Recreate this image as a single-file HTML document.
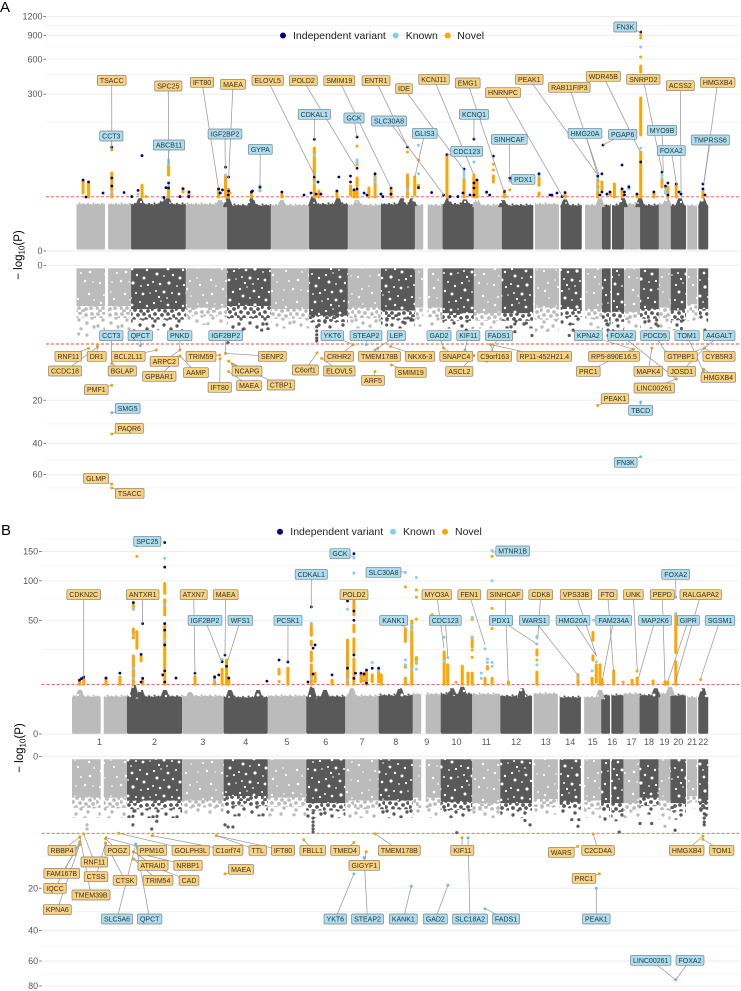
<!DOCTYPE html>
<html lang="en">
<head>
<meta charset="utf-8">
<title>Mirrored Manhattan plots</title>
<style>
html,body{margin:0;padding:0;background:#fff;}
svg{display:block;font-family:"Liberation Sans",sans-serif;}
</style>
</head>
<body>
<svg id="chart" xmlns="http://www.w3.org/2000/svg" width="741" height="991" viewBox="0 0 741 991">
  <defs>
    <pattern id="dense-light" width="36" height="36" patternUnits="userSpaceOnUse">
      <rect width="36" height="36" fill="#bbbbbb"/>
      <g fill="#fff"><circle cx="3" cy="4" r=".8"/><circle cx="17" cy="6" r="1.2"/><circle cx="32" cy="7" r="1"/><circle cx="6" cy="11" r="1.1"/><circle cx="22" cy="12" r=".9"/><circle cx="29" cy="15" r="1.2"/><circle cx="9" cy="21" r="1"/><circle cx="18" cy="20" r="1.3"/><circle cx="33" cy="22" r=".8"/><circle cx="13" cy="29" r="1.2"/><circle cx="28" cy="31" r="1.1"/><circle cx="21" cy="30" r=".7"/><circle cx="4" cy="30" r=".8"/></g>
    </pattern>
    <pattern id="dense-dark" width="36" height="36" patternUnits="userSpaceOnUse">
      <rect width="36" height="36" fill="#595959"/>
      <g fill="#fff"><circle cx="3" cy="4" r="1.1"/><circle cx="10" cy="2" r=".8"/><circle cx="17" cy="6" r="1.4"/><circle cx="25" cy="3" r="1"/><circle cx="32" cy="7" r="1.2"/><circle cx="6" cy="11" r="1.5"/><circle cx="13" cy="13" r=".9"/><circle cx="22" cy="12" r="1.2"/><circle cx="29" cy="15" r="1.5"/><circle cx="2" cy="19" r="1"/><circle cx="9" cy="21" r="1.3"/><circle cx="18" cy="20" r="1.6"/><circle cx="26" cy="23" r=".9"/><circle cx="33" cy="22" r="1.1"/><circle cx="5" cy="28" r="1"/><circle cx="13" cy="29" r="1.5"/><circle cx="21" cy="30" r="1"/><circle cx="28" cy="31" r="1.4"/><circle cx="35" cy="30" r=".8"/><circle cx="16" cy="35" r=".9"/><circle cx="8" cy="34" r="1.1"/></g>
    </pattern>
    <pattern id="mid-light" width="24" height="24" patternUnits="userSpaceOnUse">
      <g fill="#bbbbbb"><circle cx="2" cy="2" r="1.9"/><circle cx="8" cy="1" r="1.9"/><circle cx="14" cy="3" r="1.9"/><circle cx="20" cy="2" r="1.9"/><circle cx="5" cy="6" r="1.9"/><circle cx="11" cy="7" r="1.9"/><circle cx="18" cy="8" r="1.9"/><circle cx="23" cy="6" r="1.9"/><circle cx="1" cy="10" r="1.9"/><circle cx="8" cy="11" r="1.9"/><circle cx="14" cy="12" r="1.9"/><circle cx="21" cy="12" r="1.9"/><circle cx="4" cy="15" r="1.9"/><circle cx="11" cy="16" r="1.9"/><circle cx="17" cy="15" r="1.9"/><circle cx="23" cy="17" r="1.9"/><circle cx="1" cy="20" r="1.9"/><circle cx="7" cy="20" r="1.9"/><circle cx="14" cy="21" r="1.9"/><circle cx="19" cy="20" r="1.9"/><circle cx="4" cy="23" r="1.9"/><circle cx="11" cy="23" r="1.9"/></g>
    </pattern>
    <pattern id="mid-dark" width="24" height="24" patternUnits="userSpaceOnUse">
      <g fill="#595959"><circle cx="2" cy="2" r="1.9"/><circle cx="8" cy="1" r="1.9"/><circle cx="14" cy="3" r="1.9"/><circle cx="20" cy="2" r="1.9"/><circle cx="5" cy="6" r="1.9"/><circle cx="11" cy="7" r="1.9"/><circle cx="18" cy="8" r="1.9"/><circle cx="23" cy="6" r="1.9"/><circle cx="1" cy="10" r="1.9"/><circle cx="8" cy="11" r="1.9"/><circle cx="14" cy="12" r="1.9"/><circle cx="21" cy="12" r="1.9"/><circle cx="4" cy="15" r="1.9"/><circle cx="11" cy="16" r="1.9"/><circle cx="17" cy="15" r="1.9"/><circle cx="23" cy="17" r="1.9"/><circle cx="1" cy="20" r="1.9"/><circle cx="7" cy="20" r="1.9"/><circle cx="14" cy="21" r="1.9"/><circle cx="19" cy="20" r="1.9"/><circle cx="4" cy="23" r="1.9"/><circle cx="11" cy="23" r="1.9"/></g>
    </pattern>
    <pattern id="sparse-light" width="24" height="24" patternUnits="userSpaceOnUse">
      <g fill="#bbbbbb"><circle cx="2" cy="3" r="1.7"/><circle cx="13" cy="2" r="1.7"/><circle cx="20" cy="6" r="1.7"/><circle cx="7" cy="8" r="1.7"/><circle cx="15" cy="11" r="1.7"/><circle cx="2" cy="14" r="1.7"/><circle cx="22" cy="15" r="1.7"/><circle cx="9" cy="17" r="1.7"/><circle cx="16" cy="20" r="1.7"/><circle cx="4" cy="22" r="1.7"/></g>
    </pattern>
    <pattern id="sparse-dark" width="24" height="24" patternUnits="userSpaceOnUse">
      <g fill="#595959"><circle cx="2" cy="3" r="1.7"/><circle cx="13" cy="2" r="1.7"/><circle cx="20" cy="6" r="1.7"/><circle cx="7" cy="8" r="1.7"/><circle cx="15" cy="11" r="1.7"/><circle cx="2" cy="14" r="1.7"/><circle cx="22" cy="15" r="1.7"/><circle cx="9" cy="17" r="1.7"/><circle cx="16" cy="20" r="1.7"/><circle cx="4" cy="22" r="1.7"/></g>
    </pattern>
    <pattern id="fuzz-light" width="14" height="6" patternUnits="userSpaceOnUse">
      <g fill="#bbbbbb"><circle cx="1" cy="4.2" r="1.5"/><circle cx="4" cy="3" r="1.3"/><circle cx="6.5" cy="4.4" r="1.5"/><circle cx="9.5" cy="2.4" r="1.1"/><circle cx="11.5" cy="4.2" r="1.5"/><circle cx="13.5" cy="3.2" r="1.1"/></g>
    </pattern>
    <pattern id="fuzz-dark" width="14" height="6" patternUnits="userSpaceOnUse">
      <g fill="#595959"><circle cx="1" cy="4.2" r="1.5"/><circle cx="4" cy="3" r="1.3"/><circle cx="6.5" cy="4.4" r="1.5"/><circle cx="9.5" cy="2.4" r="1.1"/><circle cx="11.5" cy="4.2" r="1.5"/><circle cx="13.5" cy="3.2" r="1.1"/></g>
    </pattern>
  </defs>

  <g id="grid-layer"></g>
  <g id="band-layer"></g>
  <g id="threshold-layer"></g>
  <g id="point-layer"></g>
  <g id="axis-layer"></g>
  <g id="leader-layer"></g>
  <g id="label-layer"></g>

  <text x="0" y="12" font-size="15" fill="#000">A</text>
  <text x="1" y="535" font-size="15" fill="#000">B</text>

  <text transform="translate(22,255) rotate(-90)" text-anchor="middle" font-size="11.5" fill="#000">− log<tspan dy="2.5" font-size="8">10</tspan><tspan dy="-2.5">(P)</tspan></text>
  <text transform="translate(23,748) rotate(-90)" text-anchor="middle" font-size="11.5" fill="#000">− log<tspan dy="2.5" font-size="8">10</tspan><tspan dy="-2.5">(P)</tspan></text>

  <g font-size="10.5" fill="#222">
    <circle cx="283" cy="35.5" r="3" fill="#000080"/>
    <text x="293" y="39">Independent variant</text>
    <circle cx="395.7" cy="35.5" r="3" fill="#87ceeb"/>
    <text x="405.7" y="39">Known</text>
    <circle cx="447.7" cy="35.5" r="3" fill="#ffa500"/>
    <text x="457.3" y="39">Novel</text>
  </g>
  <g font-size="10.5" fill="#222">
    <circle cx="280" cy="531.7" r="3" fill="#000080"/>
    <text x="290.3" y="535.2">Independent variant</text>
    <circle cx="393" cy="531.7" r="3" fill="#87ceeb"/>
    <text x="403" y="535.2">Known</text>
    <circle cx="445" cy="531.7" r="3" fill="#ffa500"/>
    <text x="455" y="535.2">Novel</text>
  </g>
</svg>

<script>
/* ---------- shared genome data (cumulative Mb) ---------- */
const chromNames = ["1","2","3","4","5","6","7","8","9","10","11","12","13","14","15","16","17","18","19","20","21","22"];
const chromSegments = [
  [[0,130],[144,249]],[[249,499]],[[499,687]],[[687,887]],[[887,1061]],[[1061,1238]],[[1238,1389]],[[1389,1544]],
  [[1544,1582],[1602,1670]],[[1670,1813]],[[1813,1940]],[[1940,2084]],[[2091,2201]],[[2209,2305]],[[2320,2397]],
  [[2397,2437],[2443,2498]],[[2498,2571]],[[2571,2657]],[[2657,2711]],[[2711,2781]],[[2786,2832]],[[2837,2882]]
];

/* ---------- panel A, upper mirror ---------- */
const aUpperMajorTicks = [0,300,600,900,1200];
const aUpperMinorTicks = [150,450,750,1050];
const aUpperThreshold = [7.7];
const aUpperBandTop = [5.4,5.4,5.4,5.0,5.0,5.4,5.0,5.4,5.0,5.4,5.0,5.0,5.4,5.0,5.0,5.0,5.4,5.0,5.4,5.0,4.9,5.0];
const aUpperGrayPeaks = [[290,7],[395,7],[417,7],[655,6.2],[691,7],[800,7],[937,6.2],[1079,7.7],[1193,7],[1280,6.2],[1485,7],[1531,7],[1695,7],[1772,6.5],[1827,6.2],[1946,6.2],[2229,6.5],[2388,7],[2493,7],[2571,7],[2694,7],[2753,7],[2858,7]];
const aUpperRuns = [
  [30,9.7,19.5],[55,7.6,17.7],[161,7.6,27],[299,7.6,15],[420,24.6,37.8],[420,7.6,12.9],[486,10.3,12.3],[513,7.6,10.3],
  [648,7.6,12.3],[680,7.6,22.5],[694,7.6,12],[798,7.6,9.7],[837,11,12.9],[937,7.6,9],[1085,7.6,70.2],[1106,7.6,10.9],
  [1188,7.6,10.9],[1250,8.6,14.4],[1266,7.6,11.6],[1280,14.4,21.5],[1280,7.6,10.9],[1334,7.6,12.9],[1362,7.6,23.5],
  [1435,7.6,11.6],[1510,11.6,24.6],[1510,7.6,10.3],[1543,8.6,22.5],[1560,12.9,15],[1690,7.6,53.2],[1768,7.6,21.5],
  [1813,7.6,24.6],[1827,7.6,19.5],[1902,17.7,23.5],[1952,7.6,10.9],[2110,15,21.5],[2110,8.6,9.7],[2229,7.6,9.7],
  [2378,7.6,19.5],[2397,11.6,17.7],[2434,8.6,10.3],[2454,7.6,16],[2489,7.6,12.3],[2557,7.6,9],[2574,7.6,61.4],
  [2574,106,275],[2574,473,529],[2634,7.6,10.3],[2671,13.6,19.5],[2698,7.6,13.6],[2736,7.6,15],[2858,7.6,10.3]
];
const aUpperNovel = [[2574,903],[2574,861],[2574,624],[2574,112],[1510,61.4],[1560,46],[1902,39],[1902,30.7],[1280,75],[1280,38],[161,66],[161,70],[1977,11.6],[317,7.8],[700,9.7],[2110,8.8]];
const aUpperKnown = [[161,10.3],[281,9],[299,54],[420,46],[420,42],[420,38],[420,14.4],[659,9.7],[680,24.6],[837,14.4],[837,11.6],[1085,55],[1085,16.8],[1085,24.6],[1280,46],[1280,42.5],[1280,41],[1362,21.5],[1362,17.7],[1510,11.6],[1560,77],[1560,26],[1768,28],[1768,24.6],[1768,21.5],[1813,42.5],[1871,9.7],[1977,18.6],[2110,23.5],[2378,21.5],[2378,16],[2378,11.6],[2520,14.4],[2520,12.3],[2574,742],[2574,70],[2671,24.6],[2671,21.5],[2687,12.9],[2687,10.9],[2687,9.7],[2858,11.6]];
const aUpperIndependent = [[30,19.5],[43,7.6],[55,17.7],[121,9.7],[161,72.7],[161,21.5],[161,14.4],[217,10],[252,7.8],[281,11.3],[299,54],[399,7.4],[408,13.2],[420,16.8],[420,12.9],[472,7.8],[486,12.5],[512,7.8],[513,10.3],[648,12.3],[655,9.7],[666,11.6],[680,34.7],[694,22.5],[694,10.9],[692,8.6],[798,10.3],[803,10.9],[837,13.6],[937,10.3],[1038,8.6],[1070,9.7],[1085,93],[1085,22.5],[1093,9.1],[1102,17.7],[1115,9.1],[1188,10.9],[1197,22.5],[1250,23.5],[1250,17.7],[1266,11.6],[1280,99.8],[1280,33],[1280,12.3],[1312,9.7],[1325,8.6],[1362,26],[1389,9.1],[1398,7.8],[1435,12.9],[1435,9.1],[1510,72.7],[1560,13.2],[1620,10],[1675,8.6],[1690,56],[1704,7.8],[1740,7.8],[1763,9.7],[1768,32],[1795,8.6],[1813,93.7],[1813,16.8],[1813,12.9],[1813,8.6],[1827,19.5],[1871,10.3],[1885,8.6],[1902,53],[1952,10.6],[1977,21.5],[2110,26],[2160,8.6],[2169,8.6],[2192,9.7],[2215,7.8],[2229,10],[2378,23.5],[2388,8.6],[2397,26],[2397,10.3],[2402,77.6],[2420,9.1],[2434,10.3],[2489,37.8],[2489,12.3],[2500,10.3],[2500,8.6],[2520,13.6],[2557,9.1],[2574,948],[2574,42.5],[2634,10.3],[2671,28.2],[2687,14.4],[2698,16.8],[2698,8.6],[2736,16],[2749,10.3],[2758,9.1],[2858,16],[2858,12.3],[2867,8.6]];
const aUpperLabels = [
  ["TSACC","n",161,66],["SPC25","n",420,37.8],["IFT80","n",648,12.9],["MAEA","n",694,21.5],["ELOVL5","n",1092,21.5],
  ["POLD2","n",1276,33.4],["SMIM19","n",1435,13],["ENTR1","n",1510,72.7],["IDE","n",1768,30.7],["KCNJ11","n",1813,24.6],
  ["EMG1","n",1951,10.3],["HNRNPC","n",2218,7.7],["PEAK1","n",2378,24.6],["RAB11FIP3","n",2384,24.6],["WDR45B","n",2571,62],
  ["SNRPD2","n",2672,28.5],["ACSS2","n",2758,10.3],["HMGXB4","n",2862,16.8],
  ["CCT3","k",161,72.7],["ABCB11","k",420,45.9],["IGF2BP2","k",679,33.4],["GYPA","k",837,14],["CDKAL1","k",1085,93],
  ["GCK","k",1278,100],["SLC30A8","k",1676,8.6],["GLIS3","k",1544,22.5],["KCNQ1","k",1813,93],["CDC123","k",1690,55],
  ["SINHCAF","k",1977,21.5],["PDX1","k",1977,19.5],["HMG20A","k",2378,24.6],["PGAP6","k",2402,77.6],["MYO9B","k",2677,28.5],
  ["FOXA2","k",2738,15],["TMPRSS6","k",2862,16],["FN3K","k",2574,948]
];
const aUpperLabelBoxes = [
  [111.7,80.3],[168.3,86],[202,82.3],[233,84.3],[267.7,80.3],[303.3,80.7],[339.3,80.7],[376,80.7],[404,88.7],[434,79.3],
  [467.7,83],[503,92.7],[529.3,79.3],[569.3,87.3],[603.3,76.3],[643.3,79.3],[680.3,85.7],[717.7,82.3],
  [111.3,136],[169,145],[225,134],[260.3,149.3],[314.3,114.3],[354,118],[389,121],[424.7,133.3],[474,114.3],[466.7,151.3],
  [509.3,139.3],[523.3,179.3],[585,133.3],[622.7,134.3],[662,130.3],[671.3,150.7],[710.3,140],[625.3,27]
];

/* ---------- panel A, lower mirror ---------- */
const aLowerMajorTicks = [0,20,40,60];
const aLowerMinorTicks = [30,50,70];
const aLowerThreshold = [5.2];
const aLowerDense = [1.0,1.2,1.1,1.0,1.2,1.7,1.1,1.3,1.1,1.5,1.5,1.5,1.1,1.2,1.2,1.4,1.4,1.2,1.1,1.3,0.9,1.2];
const aLowerSparse = [3.2,3.2,2.6,3.2,3.0,3.0,3.0,3.0,2.8,3.0,3.0,3.0,3.4,2.6,3.0,3.4,3.0,3.0,3.0,3.2,2.2,2.4];
const aLowerGray = [[10,3.7],[48,3.85],[760,3.1],[845,3.2],[868,2.5],[691,5],[1096,2.8],[1096,3.3],[1096,3.8],[1096,4.3],[1096,4.7],[2078,3.9],[2266,3.2],[2248,3.9],[2151,3.2],[1415,2.6],[1489,2.3],[1512,1.9],[1535,2.1],[1778,3.2],[2000,2.5],[2000,3.4],[2052,2.4],[2252,2.5],[2425,2.6],[2425,3.2],[2425,3.9],[2647,2.1],[2653,2.7],[2760,2.2],[2760,3],[2867,3.2]];
const aLowerLabels = [
  ["CCT3","k",161,9],["QPCT","k",291,5.5],["PNKD","k",472,6.25],["IGF2BP2","k",680,6.9],["YKT6","k",1262,5.3],["STEAP2","k",1322,5.3],
  ["LEP","k",1362,6.25],["GAD2","k",1675,5.9],["KIF11","k",1772,6.25],["FADS1","k",1871,8.5],["KPNA2","k",2540,6.1],["FOXA2","k",2736,13],
  ["PDCD5","k",2688,6.6],["TOM1","k",2860,11],["A4GALT","k",2865,5.9],["SMG5","k",161,25],["TBCD","k",2574,20.7],["FN3K","k",2574,48],
  ["RNF11","n",55,5.95],["DR1","n",96,5.3],["CCDC18","n",96,5.7],["BCL2L11","n",364,6.25],["BGLAP","n",161,9],["PMF1","n",161,14.9],
  ["PAQR6","n",161,35],["GLMP","n",161,67],["TSACC","n",161,70],["ARPC2","n",472,6.25],["GPBAR1","n",472,7.4],["AAMP","n",472,7.4],
  ["TRIM59","n",653,7.2],["IFT80","n",655,8],["SENP2","n",680,6.9],["NCAPG","n",694,8.5],["MAEA","n",694,11],["CTBP1","n",711,9.2],
  ["C6orf1","n",1097,6.8],["CRHR2","n",1262,5.3],["ELOVL5","n",1118,7.9],["TMEM178B","n",1374,5.9],["ARF5","n",1362,11],["NKX6-3","n",1433,5.6],
  ["SMIM19","n",1437,9.4],["SNAPC4","n",1675,5.9],["ASCL2","n",1813,7.3],["C9orf163","n",1889,5.3],["RP11-452H21.4","n",1889,5.3],
  ["RP5-890E16.5","n",2540,6.1],["PRC1","n",2540,6.1],["MAPK4","n",2625,5.9],["GTPBP1","n",2865,5.9],["CYB5R3","n",2865,5.9],["JOSD1","n",2865,5.9],
  ["HMGXB4","n",2860,10.4],["LINC00261","n",2736,13],["PEAK1","n",2378,22]
];
const aLowerLabelBoxes = [
  [111.3,335.7],[140.3,335.7],[179.7,335.7],[225.7,335.7],[332.3,335.7],[366,335.7],[396.3,335.7],[439,335.7],[468.3,335.7],[499,335.7],[588.3,335.7],[621.7,335.7],
  [655,335.7],[687,335.7],[719.3,335.7],[127.7,408.3],[640.7,410.3],[625.7,462.3],
  [68.3,356.3],[96.7,356.3],[65,371],[128.3,356.3],[122.3,371],[96.3,389.7],
  [129.3,428.3],[96,478.3],[129.7,493.3],[164.3,361.3],[159.3,376.3],[196,372.7],
  [201,356.3],[219.7,387.3],[272.3,356.3],[247,371],[249,385.7],[281,385],
  [305.3,370],[339,356.3],[339.3,371],[379.5,356.3],[373,380.3],[420,356.3],
  [410.7,372.3],[456.3,356.3],[459.3,371.3],[494.7,356.3],[544.3,356.3],
  [614,356.3],[588.3,371.3],[648.3,371.3],[681,356.3],[719,356.3],[681.7,371.3],
  [718.3,377.3],[654.3,388],[615,398.7]
];

/* ---------- panel B, upper mirror ---------- */
const bUpperMajorTicks = [0,50,100,150];
const bUpperMinorTicks = [25,75,125,175];
const bUpperThreshold = [7.2];
const bUpperBandTop = [4.3,4.3,4.4,4.1,4.4,4.3,4.4,4.6,4.9,5.0,4.9,4.4,5.0,4.1,4.1,4.6,5.0,4.6,5.0,4.6,4.1,4.1];
const bUpperGrayPeaks = [[36,5.5],[281,7],[312,5.5],[421,5.5],[535,4.9],[716,5.5],[843,5.5],[1087,6.5],[1146,5.5],[1268,6],[1486,6],[1721,6],[1768,6.5],[2038,6],[2392,5.5],[2644,6],[2709,6.5],[2858,6]];
const bUpperRuns = [
  [34,7.3,8.8],[53,7.3,9.6],[154,7.3,9.6],[217,7.3,10],[278,7.3,20.8],[278,33.7,41.5],[278,62,67],[294,26,39],[313,18,20.8],[320,7.3,8.8],
  [420,82,96],[420,55.7,73.4],[420,7.3,45.2],[557,7.3,10.3],[646,7.3,10.3],[680,7.3,13.5],[700,7.3,18.4],[710,7.3,9.6],[938,11.3,13.5],
  [978,7.3,14],[1084,36,46],[1084,28.3,31],[1084,17.8,23.4],[1084,7.3,15.7],[1101,8.2,11.7],[1178,7.3,8.8],[1248,15.3,32],[1248,7.3,15],
  [1277,55.7,72],[1277,39,45],[1277,21.4,33],[1277,10.9,18.9],[1277,7.3,10.9],[1309,8.2,10.9],[1323,8.5,11.7],[1334,7.3,12.1],[1360,8.2,10.9],
  [1389,8.2,12],[1401,7.3,10.9],[1510,31,41.5],[1510,14.5,15.7],[1510,7.3,9.6],[1539,7.3,49.3],[1560,16.5,19.8],[1686,7.3,23.4],[1702,7.3,15.7],
  [1768,7.3,15],[1794,7.3,11.7],[1813,27,34.5],[1813,7.3,11.7],[1871,7.3,9.5],[1882,13.6,14.9],[1903,7.3,9.5],[1977,7.3,8.1],[2106,21.4,24.7],
  [2106,7.3,12.1],[2292,7.3,10.9],[2356,7.3,9.5],[2360,32,38.5],[2360,18.4,20.8],[2375,8.1,15.7],[2392,7.3,15.7],[2401,7.3,8.8],[2454,7.3,12.7],
  [2537,7.3,8.8],[2560,7.3,9.6],[2632,7.3,8.5],[2686,7.3,8.1],[2699,7.3,8.1],[2735,23,55.7],[2735,7.3,16]
];
const bUpperNovel = [[294,141],[1510,91],[1560,86.5],[1560,77],[1560,51],[1631,56],[1813,51],[1813,24.7],[1813,20],[1903,141],[1903,63],[1903,42],[2848,9],[2497,8],[1740,8],[2735,17.4],[978,8.2],[938,8.3],[1277,112],[2106,18.4],[2560,12.6]];
const bUpperKnown = [[278,63],[278,13.9],[278,9.5],[278,36],[420,137.5],[420,67],[420,32],[646,8.8],[680,18.6],[978,17],[1084,47],[1084,9.5],[1248,62],[1248,9],[1277,138],[1277,112],[1323,9.5],[1360,17],[1389,13.1],[1510,113],[1510,15.7],[1510,18.4],[1539,45],[1539,40.6],[1539,13.5],[1560,105],[1560,17.4],[1560,13.5],[1686,34.3],[1686,17.7],[1702,19.8],[1813,53],[1813,33.7],[1854,11.7],[1854,9.5],[1871,25.5],[1882,19],[1882,17],[1903,152],[1903,100],[1903,17],[1903,14.9],[2106,29],[2106,35],[2106,33.7],[2106,15.7],[2292,9.6],[2356,12.7],[2363,50],[2375,17.4],[2735,77],[2735,57.5]];
const bUpperIndependent = [[34,8.8],[43,9.4],[53,10],[154,9.6],[217,11.7],[278,70],[294,162],[313,21.8],[320,46.7],[320,9.5],[313,8.1],[411,10.9],[420,168],[420,122],[420,46.7],[420,40.6],[420,28.3],[420,12.7],[420,8.1],[471,9.6],[557,11.7],[646,10],[665,10.9],[680,17.4],[693,21.4],[700,15],[710,9.6],[883,8.4],[938,18.4],[978,17.4],[1069,8.1],[1084,64.8],[1092,26],[1092,11.3],[1101,28.3],[1178,10.9],[1248,72],[1248,14],[1277,146],[1277,60],[1277,50],[1277,21.4],[1277,9.5],[1284,11.7],[1309,11.7],[1323,11.3],[1334,13.1],[1334,7.7],[1360,14],[1389,14]];
const bUpperLabels = [
  ["CDKN2C","n",53,9.6],["ANTXR1","n",319,46.7],["ATXN7","n",557,11.7],["MAEA","n",693,21.4],["POLD2","n",1277,69],["MYO3A","n",1685,26],
  ["FEN1","n",1871,28.3],["SINHCAF","n",1976,8.5],["CDK8","n",2110,34],["VPS33B","n",2377,20.6],["FTO","n",2453,12.6],["UNK","n",2561,12.6],
  ["PEPD","n",2686,8.5],["RALGAPA2","n",2735,8.5],
  ["SPC25","k",294,162],["IGF2BP2","k",678,17.4],["WFS1","k",700,15.7],["PCSK1","k",978,17.4],["CDKAL1","k",1084,63],["GCK","k",1277,141],
  ["SLC30A8","k",1509,114],["KANK1","k",1509,43],["CDC123","k",1702,20.6],["PDX1","k",2105,29],["WARS1","k",2291,10.9],["HMG20A","k",2377,20.6],
  ["FAM234A","k",2402,8.8],["MAP2K6","k",2566,9.5],["GIPR","k",2700,8.5],["SGSM1","k",2848,9.5],["FOXA2","k",2735,77],["MTNR1B","k",1902,149]
];
const bUpperLabelBoxes = [
  [83.7,594.7],[142.7,594.7],[193.7,594.7],[225.7,594.7],[354,594.7],[436.7,594.7],
  [469.3,594.7],[505,594.7],[540.7,594.7],[576,594.7],[607.7,594.7],[633.3,594.7],
  [662.3,594.7],[700.7,594.7],
  [147.3,541.3],[205,620.3],[240.3,620.3],[288,620.3],[311.3,574.3],[340,553.7],
  [383.5,572.3],[393.7,620.3],[445.3,620.3],[501,620.3],[534.3,620.3],[573,620.3],
  [613.7,620.3],[655,620.3],[688.3,620.3],[720,620.3],[675.7,574.3],[512.7,551]
];

/* ---------- panel B, lower mirror ---------- */
const bLowerMajorTicks = [0,20,40,60,80];
const bLowerMinorTicks = [10,30,50,70];
const bLowerThreshold = [5.2];
const bLowerDense = [1.1,1.3,1.3,1.0,1.1,1.5,1.3,1.3,1.1,1.4,1.5,1.5,1.2,1.4,1.3,1.5,1.5,1.1,1.3,1.5,1.0,1.5];
const bLowerSparse = [3.0,3.0,2.6,2.8,2.8,3.0,3.0,3.0,3.0,3.0,3.0,3.0,2.6,2.6,3.0,3.4,3.0,2.6,3.2,3.2,2.0,3.0];
const bLowerGray = [[68,3.9],[68,4.5],[276,3.9],[361,4.5],[384,3.4],[693,3.9],[707,4.2],[729,4.2],[1092,2.4],[1092,3],[1092,3.5],[1092,4],[1092,4.5],[1092,5],[1743,5.1],[2292,4.1],[2264,3.2],[2296,3.2],[2052,3.3],[2075,3.9],[2479,5],[2732,4.7],[2864,1.9],[2864,2.5],[2864,3],[2864,3.5],[2864,3.9],[2573,3.7],[2626,3.7],[2686,4.1],[276,2.8],[285,2.2],[385,2.8]];
const bLowerLabels = [
  ["RBBP4","n",35,5.9],["FAM167B","n",35,7.3],["IQCC","n",35,6.75],["KPNA6","n",35,7.3],["RNF11","n",53,5.3],["TMEM39B","n",36,5.8],
  ["CTSS","n",152,7],["POGZ","n",152,6.2],["CTSK","n",152,7],["PPM1G","n",154,6],["GOLPH3L","n",212,5.2],["ATRAID","n",278,8.9],
  ["NRBP1","n",278,9],["TRIM54","n",278,10.7],["CAD","n",278,10.7],["C1orf74","n",364,5.6],["TTL","n",654,5.6],["IFT80","n",654,5.6],
  ["MAEA","n",693,15],["FBLL1","n",1050,6.4],["TMED4","n",1277,6.9],["GIGYF1","n",1333,8.9],["TMEM178B","n",1373,5.3],["KIF11","n",1767,6],
  ["WARS","n",2291,7.7],["C2CD4A","n",2361,5.3],["PRC1","n",2389,15],["HMGXB4","n",2858,5.7],["TOM1","n",2858,6.3],
  ["SLC5A6","k",289,7.2],["QPCT","k",289,7.2],["YKT6","k",1277,15],["STEAP2","k",1323,10.3],["KANK1","k",1537,19.2],["GAD2","k",1703,18.9],
  ["SLC18A2","k",1794,6],["FADS1","k",1871,28.7],["PEAK1","k",2375,20],["LINC00261","k",2735,74.7],["FOXA2","k",2735,74.7]
];
const bLowerLabelBoxes = [
  [62,850.3],[61.7,873.3],[55,888.3],[57.3,909.7],[94.3,862],[91,895],
  [96,876.7],[117.3,850.3],[125,880.3],[152,850.3],[190.7,850.3],[153,865.3],
  [188,865.3],[158,880.3],[189,880.3],[228,850.3],[257.7,850.3],[283,850.3],
  [241,869.3],[312.7,850.3],[345,850.3],[364.3,865.3],[399.3,850.3],[462.3,850.3],
  [561.3,852.3],[598,850.3],[584,878.3],[686.7,850.3],[721.7,850.3],
  [117,919],[149.7,919],[335.3,919],[367.5,919],[403.3,919],[435.3,919],
  [470,919],[506,919],[596.3,919],[650.7,960.3],[690,960.3]
];

/* ---------- axis functions ---------- */
const xA = g => 76.5 + g * 631.5 / 2881;
const xB = g => 72 + g * 636 / 2881;
const yAU = v => 251 - 30 * Math.pow(v, 0.29);
const yAL = v => 265.3 + 40.7 * Math.pow(v, 0.4);
const yBU = v => 734 - 21.15 * Math.pow(v, 0.43);
const yBL = v => 756.3 + 39.8 * Math.pow(v, 0.4);

const SVGNS = "http://www.w3.org/2000/svg";
const gridLayer = document.getElementById("grid-layer");
const bandLayer = document.getElementById("band-layer");
const thresholdLayer = document.getElementById("threshold-layer");
const pointLayer = document.getElementById("point-layer");
const axisLayer = document.getElementById("axis-layer");
const leaderLayer = document.getElementById("leader-layer");
const labelLayer = document.getElementById("label-layer");

const isDark = i => i % 2 === 1;
const bandColor = i => isDark(i) ? "#595959" : "#bbbbbb";
const toneOf = i => isDark(i) ? "dark" : "light";
function chromOf(g) {
  for (let i = 0; i < chromSegments.length; i++) {
    const segs = chromSegments[i];
    if (g < segs[segs.length - 1][1]) return i;
  }
  return chromSegments.length - 1;
}
function node(tag, attrs) {
  const el = document.createElementNS(SVGNS, tag);
  for (const k in attrs) el.setAttribute(k, attrs[k]);
  return el;
}
/* a rect whose texture origin is shifted, so each chromosome's stipple differs */
function texturedRect(px, py, w, h, fill, shiftX, shiftY) {
  return node("rect", {x: px - shiftX, y: py - shiftY, width: w, height: h, fill: fill, transform: "translate(" + shiftX + "," + shiftY + ")"});
}

function drawGrid(y, major, minor, left) {
  major.forEach(v => {
    const l = node("line", {x1: left, x2: 739, y1: y(v), y2: y(v), stroke: "#ebebeb", "stroke-width": 0.9});
    
    
    gridLayer.appendChild(l);
    const t = node("line", {x1: left - 2.5, x2: left, y1: y(v), y2: y(v), stroke: "#444", "stroke-width": 0.7});
    
    
    axisLayer.appendChild(t);
    const lab = node("text", {x: left - 3.5, y: y(v) + 3.1, "text-anchor": "end", "font-size": 9, fill: "#555"});
    lab.textContent = String(v);
    
    
    axisLayer.appendChild(lab);
  });
  minor.forEach(v => {
    const l = node("line", {x1: left, x2: 739, y1: y(v), y2: y(v), stroke: "#f3f3f3", "stroke-width": 0.8});
    
    
    gridLayer.appendChild(l);
  });
}

function drawThreshold(y, values, left) {
  values.forEach(v => {
    const l = node("line", {x1: left, x2: 739, y1: y(v), y2: y(v), stroke: "#f0494f", "stroke-width": 0.9, "stroke-dasharray": "3 2"});
    
    
    thresholdLayer.appendChild(l);
  });
}

function drawUpperBands(x, y, tops, peaks) {
  const floorValue = 0.00003;
  chromSegments.forEach((segs, i) => {
    segs.forEach(seg => {
      const fringeTop = y(tops[i]) - 1;
      const solidTop = fringeTop + 3.6;
      const w = x(seg[1]) - x(seg[0]);
      const fuzz = node("rect", {x: x(seg[0]) - i * 5, y: 0, width: w, height: 6, fill: "url(#fuzz-" + toneOf(i) + ")", transform: "translate(" + (i * 5) + "," + fringeTop + ")"});
      
      
      bandLayer.appendChild(fuzz);
      const r = node("rect", {x: x(seg[0]), width: w, y: solidTop, height: y(floorValue) - solidTop, rx: 1.2, fill: bandColor(i)});
      
      
      bandLayer.appendChild(r);
    });
  });
  peaks.forEach(p => {
    const i = chromOf(p[0]);
    const px = x(p[0]);
    const base = y(tops[i]) + 4;
    const h = node("polygon", {points: (px - 5) + "," + base + " " + (px - 1.8) + "," + y(p[1]) + " " + (px + 1.8) + "," + y(p[1]) + " " + (px + 5) + "," + base, fill: "url(#dense-" + toneOf(i) + ")"});
    
    
    bandLayer.appendChild(h);
  });
}

function drawLowerBands(x, y, dense, sparse, gray) {
  const startValue = 0.0015;
  chromSegments.forEach((segs, i) => {
    const tone = toneOf(i);
    const denseY = y(dense[i]);
    const sparseY = y(sparse[i]);
    const midY = denseY + (sparseY - denseY) * 0.5;
    const shiftX = i * 7;
    const shiftY = i * 11;
    segs.forEach(seg => {
      const w = x(seg[1]) - x(seg[0]);
      const sp = texturedRect(x(seg[0]), midY - 1, w, sparseY - midY + 1, "url(#sparse-" + tone + ")", shiftX, shiftY);
      
      
      bandLayer.appendChild(sp);
      const m = texturedRect(x(seg[0]), denseY - 1, w, midY - denseY + 1, "url(#mid-" + tone + ")", shiftX, shiftY);
      
      
      bandLayer.appendChild(m);
      const d = texturedRect(x(seg[0]), y(startValue), w, denseY - y(startValue), "url(#dense-" + tone + ")", shiftX, shiftY);
      
      
      bandLayer.appendChild(d);
    });
  });
  gray.forEach(p => {
    const c = node("circle", {cx: x(p[0]), cy: y(p[1]), r: 1.6, fill: bandColor(chromOf(p[0]))});
    
    
    bandLayer.appendChild(c);
  });
}

function drawUpperPoints(x, y, runs, novel, known, independent) {
  runs.forEach(r => {
    const s = node("line", {x1: x(r[0]), x2: x(r[0]), y1: y(r[1]), y2: y(r[2]), stroke: "#ffa500", "stroke-width": 3, "stroke-linecap": "round"});
    
    
    pointLayer.appendChild(s);
  });
  novel.forEach(p => {
    const c = node("circle", {cx: x(p[0]), cy: y(p[1]), r: 1.5, fill: "#ffa500"});
    
    
    pointLayer.appendChild(c);
  });
  known.forEach(p => {
    const c = node("circle", {cx: x(p[0]), cy: y(p[1]), r: 1.5, fill: "#87ceeb"});
    
    
    pointLayer.appendChild(c);
  });
  independent.forEach(p => {
    const c = node("circle", {cx: x(p[0]), cy: y(p[1]), r: 1.4, fill: "#000080"});
    
    
    pointLayer.appendChild(c);
  });
}

function drawLabels(x, y, labels, boxes, drawTargets) {
  labels.forEach((lab, i) => {
    const box = boxes[i];
    const tx = x(lab[2]);
    const ty = y(lab[3]);
    const leader = node("line", {x1: box[0], y1: box[1], x2: tx, y2: ty, stroke: "#9a9a9a", "stroke-width": 0.75});
    
    
    leaderLayer.appendChild(leader);
    if (drawTargets) {
      const dot = node("circle", {cx: tx, cy: ty, r: 1.5, fill: lab[1] === "n" ? "#ffa500" : "#6fc3e6"});
      
      
      pointLayer.appendChild(dot);
    }
    const g = node("g", {});
    
    
    const rect = node("rect", {y: box[1] - 5, height: 10, rx: 1.4, fill: lab[1] === "n" ? "#fad27e" : "#aadff3", stroke: "#808080", "stroke-width": 0.7});
    
    
    const text = node("text", {x: box[0], y: box[1] + 2.5, "text-anchor": "middle", "font-size": 7, fill: "#333"});
    text.textContent = lab[0];
    
    
    g.appendChild(rect);
    g.appendChild(text);
    labelLayer.appendChild(g);
    const w = text.getComputedTextLength() + 5;
    rect.setAttribute("x", box[0] - w / 2);
    rect.setAttribute("width", w);
  });
}

function drawChromLabels(x, baseline) {
  chromNames.forEach((name, i) => {
    const segs = chromSegments[i];
    const mid = (segs[0][0] + segs[segs.length - 1][1]) / 2;
    const t = node("text", {x: x(mid), y: baseline, "text-anchor": "middle", "font-size": 9, fill: "#555"});
    t.textContent = name;
    
    
    axisLayer.appendChild(t);
  });
}

/* panel A */
drawGrid(yAU, aUpperMajorTicks, aUpperMinorTicks, 46);
drawGrid(yAL, aLowerMajorTicks, aLowerMinorTicks, 46);
drawUpperBands(xA, yAU, aUpperBandTop, aUpperGrayPeaks);
drawLowerBands(xA, yAL, aLowerDense, aLowerSparse, aLowerGray);
drawThreshold(yAU, aUpperThreshold, 46);
drawThreshold(yAL, aLowerThreshold, 46);
drawUpperPoints(xA, yAU, aUpperRuns, aUpperNovel, aUpperKnown, aUpperIndependent);
drawLabels(xA, yAU, aUpperLabels, aUpperLabelBoxes, false);
drawLabels(xA, yAL, aLowerLabels, aLowerLabelBoxes, true);

/* panel B */
drawGrid(yBU, bUpperMajorTicks, bUpperMinorTicks, 41.6);
drawGrid(yBL, bLowerMajorTicks, bLowerMinorTicks, 41.6);
drawUpperBands(xB, yBU, bUpperBandTop, bUpperGrayPeaks);
drawLowerBands(xB, yBL, bLowerDense, bLowerSparse, bLowerGray);
drawThreshold(yBU, bUpperThreshold, 41.6);
drawThreshold(yBL, bLowerThreshold, 41.6);
drawUpperPoints(xB, yBU, bUpperRuns, bUpperNovel, bUpperKnown, bUpperIndependent);
drawLabels(xB, yBU, bUpperLabels, bUpperLabelBoxes, false);
drawLabels(xB, yBL, bLowerLabels, bLowerLabelBoxes, true);
drawChromLabels(xB, 745.2);
</script>
</body>
</html>
